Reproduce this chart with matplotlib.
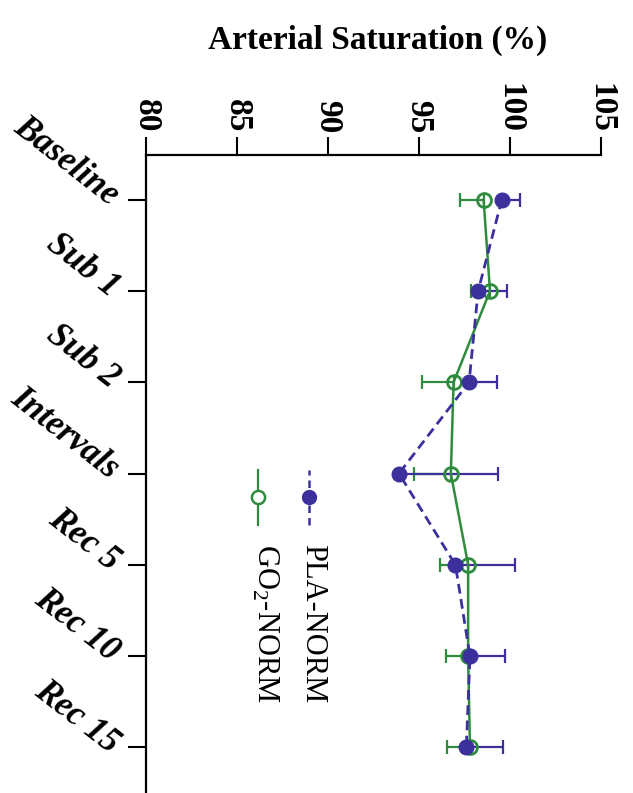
import matplotlib
matplotlib.use("Agg")
import matplotlib.pyplot as plt
import matplotlib.transforms as mtransforms
import numpy as np
from matplotlib.lines import Line2D

categories = ["Baseline", "Sub 1", "Sub 2", "Intervals", "Rec 5", "Rec 10", "Rec 15"]
pla_values = [99.55, 98.25, 97.75, 93.9, 97.0, 97.8, 97.6]
pla_err_up = [1.0, 1.6, 1.55, 5.45, 3.3, 1.9, 2.0]
go2_values = [98.55, 98.9, 96.9, 96.75, 97.7, 97.7, 97.8]
go2_err_down = [1.3, 1.05, 1.75, 2.05, 1.55, 1.2, 1.25]
value_ticks = [80, 85, 90, 95, 100, 105]
title = "Arterial Saturation (%)"
legend_labels = ["PLA-NORM", "GO$_\\mathregular{2}$-NORM"]

blue = "#3b309c"
green = "#2f8c3e"

plt.rcParams['font.family'] = ['Liberation Serif', 'DejaVu Serif']
plt.rcParams['mathtext.fontset'] = 'custom'
plt.rcParams['mathtext.rm'] = 'Liberation Serif'

fig = plt.figure(figsize=(6.33, 7.93), dpi=100)
ax = fig.add_axes([146/633, 0.0, 455/633, 638/793])

pos = np.arange(len(categories))
zeros = np.zeros(len(categories))

ax.errorbar(go2_values, pos, xerr=[go2_err_down, zeros], fmt='none',
            ecolor=green, elinewidth=1.6, capsize=5, capthick=1.6, zorder=2)
ax.errorbar(pla_values, pos, xerr=[zeros, pla_err_up], fmt='none',
            ecolor=blue, elinewidth=1.6, capsize=5, capthick=1.6, zorder=2)
ax.plot(go2_values, pos, '-', color=green, lw=1.8, marker='o', ms=10,
        mfc='none', mec=green, mew=2, zorder=3)
ax.plot(pla_values, pos, '--', color=blue, lw=2, marker='o', ms=10.5,
        mfc=blue, mec=blue, dashes=(3.5, 2), zorder=4)

ax.set_xlim(80, 105)
ax.set_ylim(6.5, -0.49)

for s in ['right', 'bottom']:
    ax.spines[s].set_visible(False)
for s in ['left', 'top']:
    ax.spines[s].set_linewidth(1.6)

ax.xaxis.tick_top()
ax.set_xticks(value_ticks)
ax.set_xticklabels([str(v) for v in value_ticks], rotation=-90,
                   fontsize=24, fontweight='bold')
ax.tick_params(axis='x', direction='out', length=13, width=1.5, pad=3)

ax.set_yticks(pos)
ax.set_yticklabels(categories, rotation=-38, fontsize=25,
                   fontweight='bold', fontstyle='italic', ha='right', va='bottom')
ax.tick_params(axis='y', direction='out', length=13, width=1.5, pad=2)
offset = mtransforms.ScaledTranslation(0, -9/72, fig.dpi_scale_trans)
for lbl in ax.get_yticklabels():
    lbl.set_transform(lbl.get_transform() + offset)

fig.text(378/633, 1 - 40/793, title, ha='center', va='center',
         fontsize=24, fontweight='bold')

# legend (rotated)
ax.add_line(Line2D([0.358, 0.358], [0.42, 0.506], transform=ax.transAxes,
                   color=blue, lw=1.8, ls='--', dashes=(3, 2)))
ax.plot([0.358], [0.464], 'o', color=blue, ms=10, transform=ax.transAxes)
ax.add_line(Line2D([0.246, 0.246], [0.42, 0.506], transform=ax.transAxes,
                   color=green, lw=1.6))
ax.plot([0.246], [0.464], 'o', mfc='white', mec=green, mew=1.8, ms=9.5,
        transform=ax.transAxes)
ax.text(0.367, 0.39, legend_labels[0], transform=ax.transAxes, rotation=-90,
        ha='center', va='top', fontsize=22)
ax.text(0.262, 0.39, legend_labels[1], transform=ax.transAxes, rotation=-90,
        ha='center', va='top', fontsize=22)

fig.savefig("out.png", dpi=100)
